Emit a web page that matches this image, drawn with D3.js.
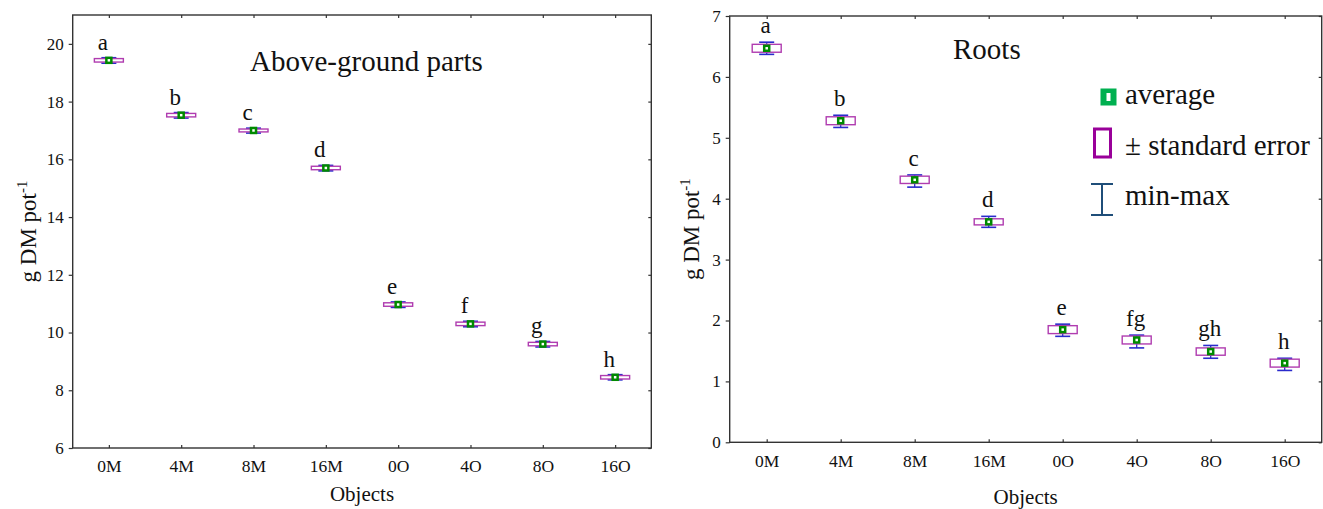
<!DOCTYPE html>
<html>
<head>
<meta charset="utf-8">
<script src="https://cdn.jsdelivr.net/npm/d3@7"></script>
<style>
  body { margin: 0; background: #fff; }
  svg { display: block; font-family: "Liberation Serif", "Times New Roman", serif; }
</style>
</head>
<body>
<svg id="chart" width="1323" height="509"></svg>
<script>
// categories (objects)
var objects = ["0M", "4M", "8M", "16M", "0O", "4O", "8O", "16O"];

// above-ground parts, g DM pot-1
var agMean = [19.43, 17.53, 17.00, 15.70, 10.97, 10.30, 9.60, 8.45];
var agSE   = [0.06, 0.06, 0.05, 0.06, 0.06, 0.06, 0.06, 0.06];
var agMin  = [19.33, 17.43, 16.91, 15.60, 10.87, 10.20, 9.50, 8.36];
var agMax  = [19.52, 17.62, 17.08, 15.79, 11.06, 10.39, 9.69, 8.54];
var agGroups = ["a", "b", "c", "d", "e", "f", "g", "h"];
var agTicks = [6, 8, 10, 12, 14, 16, 18, 20];

// roots, g DM pot-1
var rtMean = [6.47, 5.28, 4.31, 3.62, 1.85, 1.68, 1.49, 1.30];
var rtSE   = [0.065, 0.065, 0.06, 0.05, 0.065, 0.065, 0.06, 0.065];
var rtMin  = [6.37, 5.17, 4.19, 3.53, 1.74, 1.55, 1.38, 1.18];
var rtMax  = [6.57, 5.37, 4.39, 3.71, 1.94, 1.76, 1.59, 1.38];
var rtGroups = ["a", "b", "c", "d", "e", "fg", "gh", "h"];
var rtTicks = [0, 1, 2, 3, 4, 5, 6, 7];

var svg = d3.select("#chart");
var serif = '"Liberation Serif", "Times New Roman", serif';

var boxColor = "#b03cb0",
    whiskColor = "#2a2acc",
    meanColor = "#008a00";

function drawPanel(opt) {
  var g = svg.append("g");
  var x = d3.scalePoint().domain(objects).range([opt.left, opt.right]).padding(0.5);
  var y = d3.scaleLinear().domain(opt.domain).range([opt.bottom, opt.top]);

  var data = objects.map(function(d, i) {
    return { cat: d, mean: opt.mean[i], se: opt.se[i], min: opt.min[i], max: opt.max[i], grp: opt.groups[i] };
  });

  // axes
  var yAxis = g.append("g")
      .attr("transform", "translate(" + opt.left + ",0)")
      .call(d3.axisLeft(y).tickValues(opt.ticks).tickFormat(d3.format("d")).tickSize(4).tickPadding(5));
  yAxis.attr("font-family", serif);
  yAxis.selectAll("text").style("font-size", "17px").style("fill", "#111");

  var xAxis = g.append("g")
      .attr("transform", "translate(0," + opt.bottom + ")")
      .call(d3.axisBottom(x).tickSize(-3).tickPadding(12));
  xAxis.attr("font-family", serif);
  xAxis.selectAll("text").style("font-size", "17.5px").style("fill", "#111");

  g.append("g")
      .attr("transform", "translate(0," + opt.top + ")")
      .call(d3.axisBottom(x).tickSize(3).tickFormat(""));
  g.append("g")
      .attr("transform", "translate(" + opt.right + ",0)")
      .call(d3.axisLeft(y).tickValues(opt.ticks).tickSize(3).tickFormat(""));

  g.selectAll(".domain").remove();
  g.selectAll(".tick line").attr("stroke", "#333").attr("stroke-width", 1.2);

  g.append("rect")
      .attr("x", opt.left).attr("y", opt.top)
      .attr("width", opt.right - opt.left).attr("height", opt.bottom - opt.top)
      .attr("fill", "none").attr("stroke", "#333").attr("stroke-width", 1.4);

  var pt = g.selectAll(".pt").data(data).enter().append("g").attr("class", "pt");

  // min-max whiskers
  pt.append("line")
      .attr("x1", function(d) { return x(d.cat); }).attr("x2", function(d) { return x(d.cat); })
      .attr("y1", function(d) { return y(d.min); }).attr("y2", function(d) { return y(d.max); })
      .attr("stroke", whiskColor).attr("stroke-width", 1.3);
  ["min", "max"].forEach(function(k) {
    pt.append("line")
        .attr("x1", function(d) { return x(d.cat) - 7.5; }).attr("x2", function(d) { return x(d.cat) + 7.5; })
        .attr("y1", function(d) { return y(d[k]); }).attr("y2", function(d) { return y(d[k]); })
        .attr("stroke", whiskColor).attr("stroke-width", 1.6);
  });

  // standard error boxes
  pt.append("rect")
      .attr("x", function(d) { return x(d.cat) - 14.5; })
      .attr("width", 29)
      .attr("y", function(d) { return y(d.mean + d.se); })
      .attr("height", function(d) { return y(d.mean - d.se) - y(d.mean + d.se); })
      .attr("fill", "#fff").attr("fill-opacity", 0.6)
      .attr("stroke", boxColor).attr("stroke-width", 1.4);

  // mean markers
  pt.append("rect")
      .attr("x", function(d) { return x(d.cat) - 2.5; })
      .attr("y", function(d) { return y(d.mean) - 2.5; })
      .attr("width", 5).attr("height", 5)
      .attr("fill", "#fff").attr("stroke", meanColor).attr("stroke-width", 2.5);

  // group letters
  pt.append("text")
      .attr("x", function(d) { return x(d.cat) + opt.labelDx; })
      .attr("y", function(d) { return y(d.max) + opt.labelDy; })
      .attr("text-anchor", "middle")
      .style("font-size", "23px").style("fill", "#111")
      .text(function(d) { return d.grp; });

  // title
  g.append("text")
      .attr("x", opt.titleX).attr("y", opt.titleY)
      .style("font-size", "29px").style("fill", "#111")
      .text(opt.title);

  // axis titles
  g.append("text")
      .attr("x", (opt.left + opt.right) / 2).attr("y", opt.xTitleY)
      .attr("text-anchor", "middle")
      .style("font-size", "21px").style("fill", "#111")
      .text("Objects");

  var yl = g.append("text")
      .attr("transform", "translate(" + opt.yTitleX + "," + ((opt.top + opt.bottom) / 2) + ") rotate(-90)")
      .attr("text-anchor", "middle")
      .style("font-size", "23px").style("fill", "#111");
  yl.append("tspan").text("g DM pot");
  yl.append("tspan").attr("dy", -9).style("font-size", "15px").text("-1");

  return g;
}

drawPanel({
  left: 72.7, right: 651.3, top: 15, bottom: 448,
  domain: [6, 21], ticks: agTicks,
  mean: agMean, se: agSE, min: agMin, max: agMax, groups: agGroups,
  labelDx: -6, labelDy: -8,
  title: "Above-ground parts", titleX: 250, titleY: 71,
  xTitleY: 501, yTitleX: 36
});

var right = drawPanel({
  left: 729.7, right: 1321.7, top: 16, bottom: 442.3,
  domain: [0, 7], ticks: rtTicks,
  mean: rtMean, se: rtSE, min: rtMin, max: rtMax, groups: rtGroups,
  labelDx: -1, labelDy: -9,
  title: "Roots", titleX: 953, titleY: 59,
  xTitleY: 504, yTitleX: 699
});

// legend (roots panel)
var lg = right.append("g");
lg.append("rect").attr("x", 1100.5).attr("y", 88.5).attr("width", 16).attr("height", 17).attr("fill", "#00b050");
lg.append("rect").attr("x", 1106.5).attr("y", 93).attr("width", 4).attr("height", 8).attr("fill", "#fff");
lg.append("text").attr("x", 1125).attr("y", 104).style("font-size", "29px").style("fill", "#111").text("average");

lg.append("rect").attr("x", 1094.5).attr("y", 129).attr("width", 16).attr("height", 28)
    .attr("fill", "none").attr("stroke", "#990099").attr("stroke-width", 3);
lg.append("text").attr("x", 1125).attr("y", 155).style("font-size", "29px").style("fill", "#111").text("\u00b1 standard error");

var lc = "#1f4e79";
lg.append("line").attr("x1", 1102).attr("x2", 1102).attr("y1", 184).attr("y2", 215).attr("stroke", lc).attr("stroke-width", 2);
lg.append("line").attr("x1", 1091).attr("x2", 1113).attr("y1", 184).attr("y2", 184).attr("stroke", lc).attr("stroke-width", 2);
lg.append("line").attr("x1", 1091).attr("x2", 1113).attr("y1", 215).attr("y2", 215).attr("stroke", lc).attr("stroke-width", 2);
lg.append("text").attr("x", 1125).attr("y", 205).style("font-size", "29px").style("fill", "#111").text("min-max");
</script>
</body>
</html>
